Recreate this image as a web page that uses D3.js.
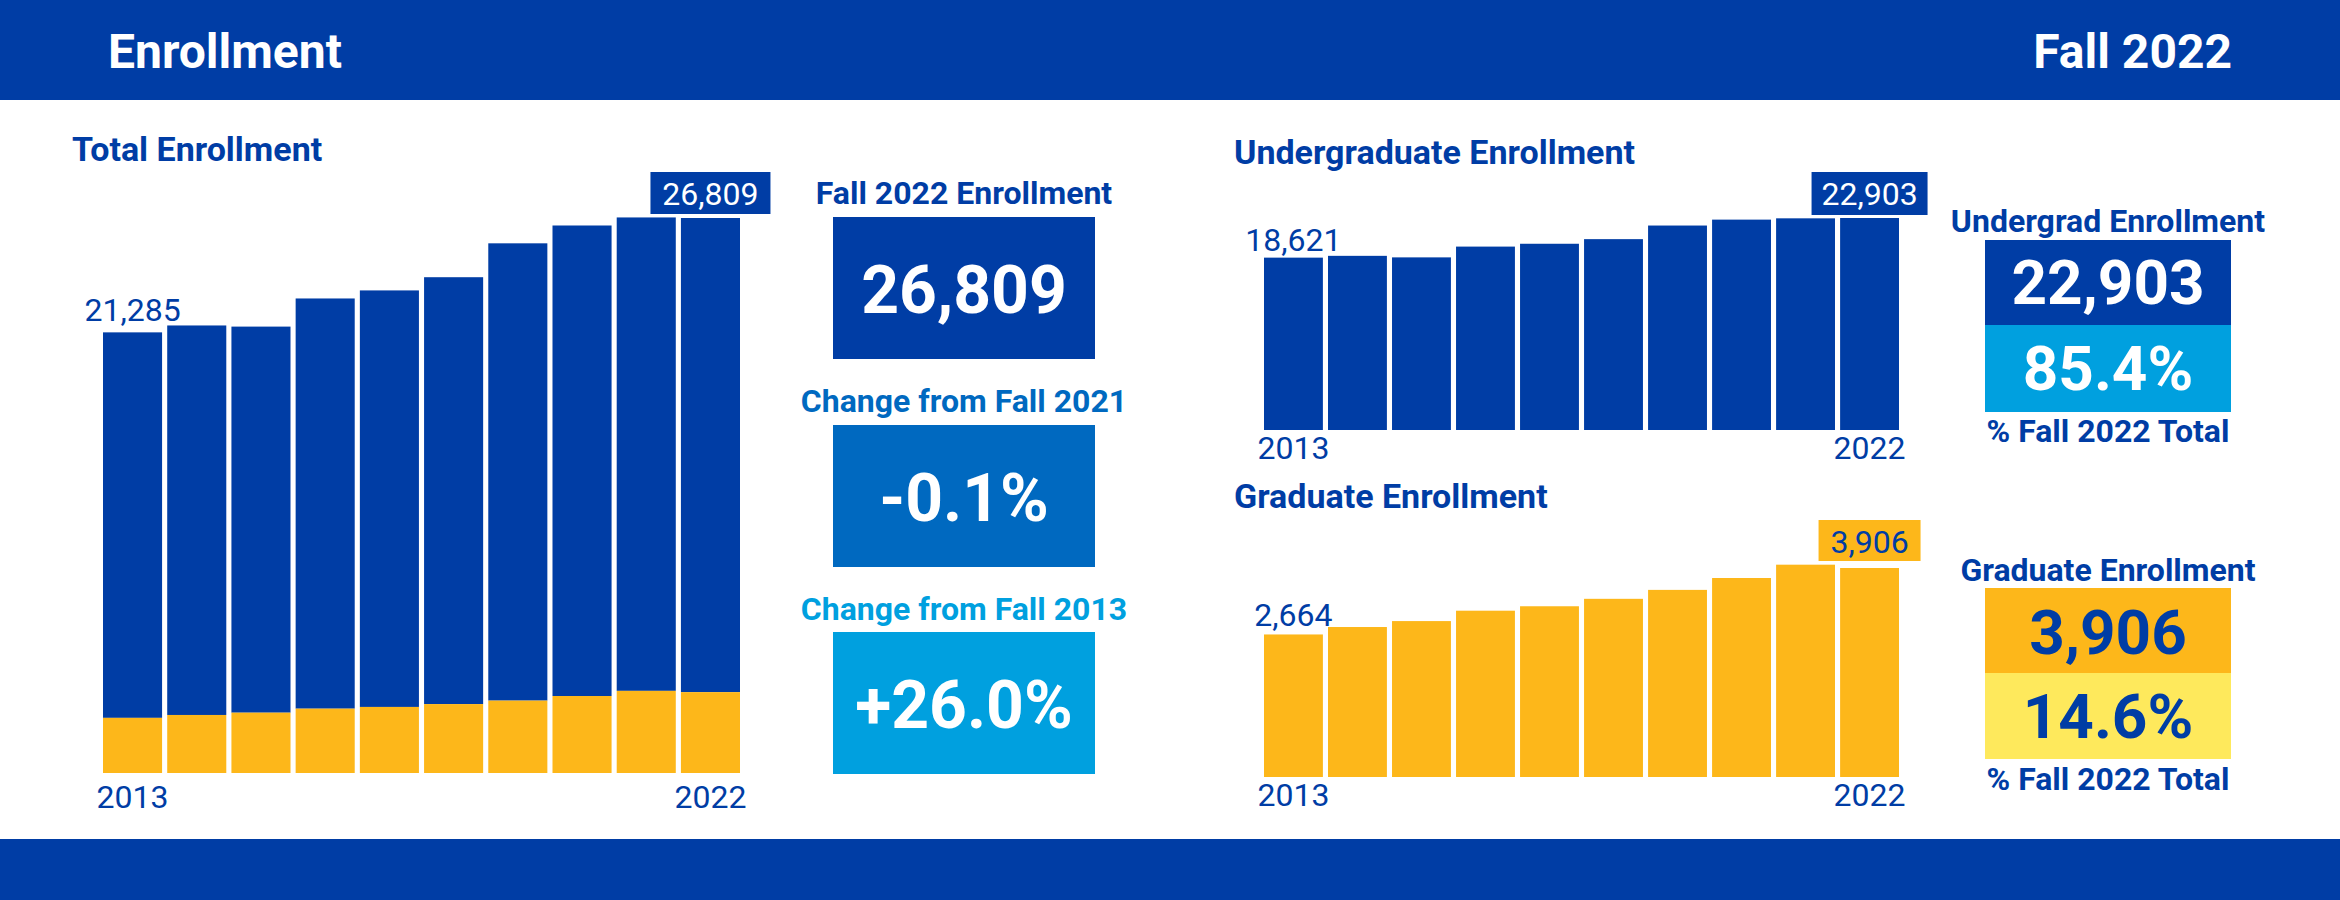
<!DOCTYPE html>
<html><head><meta charset="utf-8">
<script src="https://cdn.jsdelivr.net/npm/d3@7"></script>
<style>body{margin:0;background:#fff}svg{display:block}text{font-family:"Liberation Sans Narrow","Roboto",sans-serif}</style>
</head><body><svg id="c" width="2340" height="900"></svg>
<script>
const years = [2013,2014,2015,2016,2017,2018,2019,2020,2021,2022];
const undergrad = [18621,18815,18649,19814,20120,20619,22089,22728,22868,22903];
const graduate = [2664,2803,2914,3108,3191,3330,3497,3719,3968,3906];
const total = undergrad.map((u,i)=>u+graduate[i]);
const kpiLabels = ["Fall 2022 Enrollment","Change from Fall 2021","Change from Fall 2013"];
const kpiValues = ["26,809","-0.1%","+26.0%"];

const BLUE="#003DA5", ORANGE="#FDB71A", YELLOW="#FEE95C", MBLUE="#0069C0", LBLUE="#00A0DF";
const svg=d3.select("#c");
const fmt=d3.format(",");

svg.append("rect").attr("x",0).attr("y",0).attr("width",2340).attr("height",100).attr("fill",BLUE);
svg.append("rect").attr("x",0).attr("y",839).attr("width",2340).attr("height",61).attr("fill",BLUE);
svg.append("text").attr("x",108).attr("y",68).attr("fill","#fff").attr("font-size",48).attr("font-weight",700).text("Enrollment");
svg.append("text").attr("x",2232).attr("y",68).attr("fill","#fff").attr("font-size",48).attr("font-weight",700).attr("text-anchor","end").text("Fall 2022");

function title(x,y,t){svg.append("text").attr("x",x).attr("y",y).attr("fill",BLUE).attr("font-size",34).attr("font-weight",700).text(t);}
function txt(x,y,t,o){const e=svg.append("text").attr("x",x).attr("y",y).attr("fill",o.fill||BLUE).attr("font-size",o.size||30).attr("font-weight",o.w||400).attr("text-anchor",o.a||"start").text(t);return e;}

// Total chart
title(72,161,"Total Enrollment");
const xT=d3.scaleBand().domain(years).range([103,740]).paddingInner(0.08).paddingOuter(0);
const yT=d3.scaleLinear().domain([0,26809]).range([773,218]);
const gT=svg.append("g");
gT.selectAll(".u").data(years).join("rect").attr("x",d=>xT(d)).attr("width",xT.bandwidth())
  .attr("y",(d,i)=>yT(total[i])).attr("height",(d,i)=>yT(graduate[i])-yT(total[i])).attr("fill",BLUE);
gT.selectAll(".g").data(years).join("rect").attr("class","g").attr("x",d=>xT(d)).attr("width",xT.bandwidth())
  .attr("y",(d,i)=>yT(graduate[i])).attr("height",(d,i)=>yT(0)-yT(graduate[i])).attr("fill",ORANGE);
txt(xT(2013)+xT.bandwidth()/2,321,fmt(total[0]),{a:"middle",size:32});
const lastX=xT(2022)+xT.bandwidth()/2;
svg.append("rect").attr("x",lastX-60).attr("y",172).attr("width",120).attr("height",42).attr("fill",BLUE);
txt(lastX,205,fmt(total[9]),{a:"middle",size:32,fill:"#fff"});
txt(xT(2013)+xT.bandwidth()/2,808,"2013",{a:"middle",size:32});
txt(lastX,808,"2022",{a:"middle",size:32});

// KPI left
const kpiFill=[BLUE,MBLUE,LBLUE], kpiTitleFill=[BLUE,MBLUE,LBLUE];
const boxY=[217,425,632], labY=[204,412,620];
kpiLabels.forEach((l,i)=>{
  txt(964,labY[i],l,{a:"middle",size:32,w:700,fill:kpiTitleFill[i]});
  svg.append("rect").attr("x",833).attr("y",boxY[i]).attr("width",262).attr("height",142).attr("fill",kpiFill[i]);
  txt(964,boxY[i]+96,kpiValues[i],{a:"middle",size:66,w:700,fill:"#fff"});
});

// Undergrad chart
title(1234,164,"Undergraduate Enrollment");
const xU=d3.scaleBand().domain(years).range([1264,1899]).paddingInner(0.08).paddingOuter(0);
const yU=d3.scaleLinear().domain([0,22903]).range([430,218]);
svg.append("g").selectAll("rect").data(years).join("rect").attr("x",d=>xU(d)).attr("width",xU.bandwidth())
  .attr("y",(d,i)=>yU(undergrad[i])).attr("height",(d,i)=>yU(0)-yU(undergrad[i])).attr("fill",BLUE);
const lx=xU(2022)+xU.bandwidth()/2, fx=xU(2013)+xU.bandwidth()/2;
txt(fx,251,fmt(undergrad[0]),{a:"middle",size:32});
svg.append("rect").attr("x",lx-58).attr("y",172).attr("width",116).attr("height",43).attr("fill",BLUE);
txt(lx,205,fmt(undergrad[9]),{a:"middle",size:32,fill:"#fff"});
txt(fx,459,"2013",{a:"middle",size:32});
txt(lx,459,"2022",{a:"middle",size:32});

// Grad chart
title(1234,508,"Graduate Enrollment");
const yG=d3.scaleLinear().domain([0,3906]).range([777,568]);
svg.append("g").selectAll("rect").data(years).join("rect").attr("x",d=>xU(d)).attr("width",xU.bandwidth())
  .attr("y",(d,i)=>yG(graduate[i])).attr("height",(d,i)=>yG(0)-yG(graduate[i])).attr("fill",ORANGE);
txt(fx,626,fmt(graduate[0]),{a:"middle",size:32});
svg.append("rect").attr("x",lx-51).attr("y",520).attr("width",102).attr("height",41).attr("fill",ORANGE);
txt(lx,553,fmt(graduate[9]),{a:"middle",size:32});
txt(fx,806,"2013",{a:"middle",size:32});
txt(lx,806,"2022",{a:"middle",size:32});

// KPI right
const cx=2108;
txt(cx,232,"Undergrad Enrollment",{a:"middle",size:32,w:700});
svg.append("rect").attr("x",1985).attr("y",240).attr("width",246).attr("height",86).attr("fill",BLUE);
txt(cx,304,fmt(undergrad[9]),{a:"middle",size:62,w:700,fill:"#fff"});
svg.append("rect").attr("x",1985).attr("y",325).attr("width",246).attr("height",87).attr("fill",LBLUE);
txt(cx,390,(undergrad[9]/total[9]*100).toFixed(1)+"%",{a:"middle",size:62,w:700,fill:"#fff"});
txt(cx,442,"% Fall 2022 Total",{a:"middle",size:32,w:700});
txt(cx,581,"Graduate Enrollment",{a:"middle",size:32,w:700});
svg.append("rect").attr("x",1985).attr("y",588).attr("width",246).attr("height",86).attr("fill",ORANGE);
txt(cx,654,fmt(graduate[9]),{a:"middle",size:62,w:700});
svg.append("rect").attr("x",1985).attr("y",673).attr("width",246).attr("height",86).attr("fill",YELLOW);
txt(cx,738,(graduate[9]/total[9]*100).toFixed(1)+"%",{a:"middle",size:62,w:700});
txt(cx,790,"% Fall 2022 Total",{a:"middle",size:32,w:700});
</script></body></html>
